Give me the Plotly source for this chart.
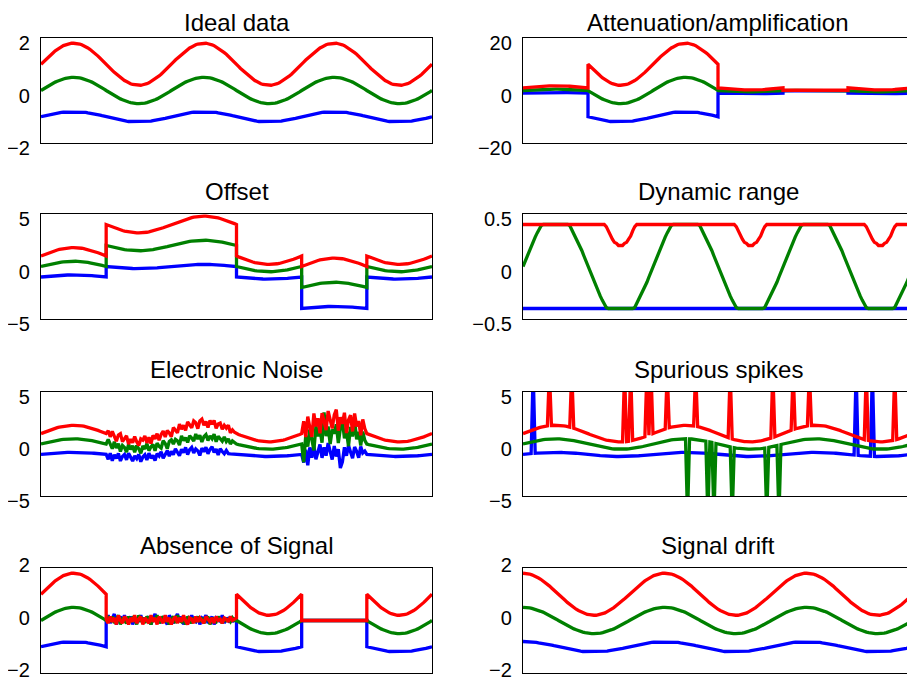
import plotly.graph_objects as go

# ---------------- data ----------------
titles = ["Ideal data", "Attenuation/amplification", "Offset", "Dynamic range",
          "Electronic Noise", "Spurious spikes", "Absence of Signal", "Signal drift"]
y_ranges = [[-2, 2], [-20, 20], [-5, 5], [-0.5, 0.5], [-5, 5], [-5, 5], [-2, 2], [-2, 2]]
y_tickvals = [[-2, 0, 2], [-20, 0, 20], [-5, 0, 5], [-0.5, 0, 0.5],
              [-5, 0, 5], [-5, 0, 5], [-2, 0, 2], [-2, 0, 2]]
y_ticktext = [["\u22122", "0", "2"], ["\u221220", "0", "20"], ["\u22125", "0", "5"],
              ["\u22120.5", "0", "0.5"], ["\u22125", "0", "5"], ["\u22125", "0", "5"],
              ["\u22122", "0", "2"], ["\u22122", "0", "2"]]

N_SAMPLES = 192

ideal_red = [
    1.00, 1.08, 1.16, 1.23, 1.31, 1.38, 1.44, 1.51, 1.57, 1.62, 1.66, 1.71, 1.74, 1.77, 1.78, 1.80,
    1.80, 1.80, 1.78, 1.77, 1.74, 1.71, 1.66, 1.62, 1.57, 1.51, 1.44, 1.38, 1.31, 1.23, 1.16, 1.08,
    1.00, 0.92, 0.84, 0.77, 0.69, 0.62, 0.56, 0.49, 0.43, 0.38, 0.34, 0.29, 0.26, 0.23, 0.22, 0.20,
    0.20, 0.20, 0.22, 0.23, 0.26, 0.29, 0.34, 0.38, 0.43, 0.49, 0.56, 0.62, 0.69, 0.77, 0.84, 0.92,
    1.00, 1.08, 1.16, 1.23, 1.31, 1.38, 1.44, 1.51, 1.57, 1.62, 1.66, 1.71, 1.74, 1.77, 1.78, 1.80,
    1.80, 1.80, 1.78, 1.77, 1.74, 1.71, 1.66, 1.62, 1.57, 1.51, 1.44, 1.38, 1.31, 1.23, 1.16, 1.08,
    1.00, 0.92, 0.84, 0.77, 0.69, 0.62, 0.56, 0.49, 0.43, 0.38, 0.34, 0.29, 0.26, 0.23, 0.22, 0.20,
    0.20, 0.20, 0.22, 0.23, 0.26, 0.29, 0.34, 0.38, 0.43, 0.49, 0.56, 0.62, 0.69, 0.77, 0.84, 0.92,
    1.00, 1.08, 1.16, 1.23, 1.31, 1.38, 1.44, 1.51, 1.57, 1.62, 1.66, 1.71, 1.74, 1.77, 1.78, 1.80,
    1.80, 1.80, 1.78, 1.77, 1.74, 1.71, 1.66, 1.62, 1.57, 1.51, 1.44, 1.38, 1.31, 1.23, 1.16, 1.08,
    1.00, 0.92, 0.84, 0.77, 0.69, 0.62, 0.56, 0.49, 0.43, 0.38, 0.34, 0.29, 0.26, 0.23, 0.22, 0.20,
    0.20, 0.20, 0.22, 0.23, 0.26, 0.29, 0.34, 0.38, 0.43, 0.49, 0.56, 0.62, 0.69, 0.77, 0.84, 0.92,
    1.00]

ideal_green = [
    0.00, 0.05, 0.10, 0.15, 0.19, 0.24, 0.28, 0.32, 0.35, 0.39, 0.42, 0.44, 0.46, 0.48, 0.49, 0.50,
    0.50, 0.50, 0.49, 0.48, 0.46, 0.44, 0.42, 0.39, 0.35, 0.32, 0.28, 0.24, 0.19, 0.15, 0.10, 0.05,
    0.00, -0.05, -0.10, -0.15, -0.19, -0.24, -0.28, -0.32, -0.35, -0.39, -0.42, -0.44, -0.46, -0.48, -0.49, -0.50,
    -0.50, -0.50, -0.49, -0.48, -0.46, -0.44, -0.42, -0.39, -0.35, -0.32, -0.28, -0.24, -0.19, -0.15, -0.10, -0.05,
    0.00, 0.05, 0.10, 0.15, 0.19, 0.24, 0.28, 0.32, 0.35, 0.39, 0.42, 0.44, 0.46, 0.48, 0.49, 0.50,
    0.50, 0.50, 0.49, 0.48, 0.46, 0.44, 0.42, 0.39, 0.35, 0.32, 0.28, 0.24, 0.19, 0.15, 0.10, 0.05,
    0.00, -0.05, -0.10, -0.15, -0.19, -0.24, -0.28, -0.32, -0.35, -0.39, -0.42, -0.44, -0.46, -0.48, -0.49, -0.50,
    -0.50, -0.50, -0.49, -0.48, -0.46, -0.44, -0.42, -0.39, -0.35, -0.32, -0.28, -0.24, -0.19, -0.15, -0.10, -0.05,
    0.00, 0.05, 0.10, 0.15, 0.19, 0.24, 0.28, 0.32, 0.35, 0.39, 0.42, 0.44, 0.46, 0.48, 0.49, 0.50,
    0.50, 0.50, 0.49, 0.48, 0.46, 0.44, 0.42, 0.39, 0.35, 0.32, 0.28, 0.24, 0.19, 0.15, 0.10, 0.05,
    0.00, -0.05, -0.10, -0.15, -0.19, -0.24, -0.28, -0.32, -0.35, -0.39, -0.42, -0.44, -0.46, -0.48, -0.49, -0.50,
    -0.50, -0.50, -0.49, -0.48, -0.46, -0.44, -0.42, -0.39, -0.35, -0.32, -0.28, -0.24, -0.19, -0.15, -0.10, -0.05,
    0.00]

ideal_blue = [
    -1.00, -0.98, -0.96, -0.94, -0.92, -0.91, -0.89, -0.87, -0.86, -0.85, -0.83, -0.82, -0.82, -0.81, -0.80, -0.80,
    -0.80, -0.80, -0.80, -0.81, -0.82, -0.82, -0.83, -0.85, -0.86, -0.87, -0.89, -0.91, -0.92, -0.94, -0.96, -0.98,
    -1.00, -1.02, -1.04, -1.06, -1.08, -1.09, -1.11, -1.13, -1.14, -1.15, -1.17, -1.18, -1.18, -1.19, -1.20, -1.20,
    -1.20, -1.20, -1.20, -1.19, -1.18, -1.18, -1.17, -1.15, -1.14, -1.13, -1.11, -1.09, -1.08, -1.06, -1.04, -1.02,
    -1.00, -0.98, -0.96, -0.94, -0.92, -0.91, -0.89, -0.87, -0.86, -0.85, -0.83, -0.82, -0.82, -0.81, -0.80, -0.80,
    -0.80, -0.80, -0.80, -0.81, -0.82, -0.82, -0.83, -0.85, -0.86, -0.87, -0.89, -0.91, -0.92, -0.94, -0.96, -0.98,
    -1.00, -1.02, -1.04, -1.06, -1.08, -1.09, -1.11, -1.13, -1.14, -1.15, -1.17, -1.18, -1.18, -1.19, -1.20, -1.20,
    -1.20, -1.20, -1.20, -1.19, -1.18, -1.18, -1.17, -1.15, -1.14, -1.13, -1.11, -1.09, -1.08, -1.06, -1.04, -1.02,
    -1.00, -0.98, -0.96, -0.94, -0.92, -0.91, -0.89, -0.87, -0.86, -0.85, -0.83, -0.82, -0.82, -0.81, -0.80, -0.80,
    -0.80, -0.80, -0.80, -0.81, -0.82, -0.82, -0.83, -0.85, -0.86, -0.87, -0.89, -0.91, -0.92, -0.94, -0.96, -0.98,
    -1.00, -1.02, -1.04, -1.06, -1.08, -1.09, -1.11, -1.13, -1.14, -1.15, -1.17, -1.18, -1.18, -1.19, -1.20, -1.20,
    -1.20, -1.20, -1.20, -1.19, -1.18, -1.18, -1.17, -1.15, -1.14, -1.13, -1.11, -1.09, -1.08, -1.06, -1.04, -1.02,
    -1.00]

# segment boundaries (sample indices) shared by several panels
seg_bounds = [0, 32, 96, 128, 160, 192]

# attenuation / amplification gain per segment
att_gain = [1, 10, 1, 0.1, 1]

# offsets per segment
offset_red = [0, 3, 0, -1, 0]
offset_green = [0, 2, 0, -2, 0]
offset_blue = [0, 1, 0, -3, 0]

# dynamic range limits
dyn_low, dyn_high = -0.4, 0.4

# electronic noise: region 1 = samples 32..96, region 2 = samples 128..160
noise1_start, noise2_start = 32, 128
noise1_red = [
    0.00, 0.35, -0.15, 0.45, 0.05, -0.35, 0.30, 0.50, -0.20, 0.15, 0.45, -0.30, 0.20, -0.10, 0.50, 0.00,
    -0.35, 0.30, 0.15, 0.55, -0.15, 0.35, -0.30, 0.45, 0.05, 0.50, -0.20, 0.30, 0.55, -0.10, 0.45, 0.15,
    -0.30, 0.50, 0.20, -0.15, 0.60, 0.05, 0.35, -0.20, 0.55, 0.15, -0.10, 0.50, 0.30, -0.30, 0.45, 0.60,
    0.00, 0.35, -0.20, 0.50, 0.15, 0.55, -0.15, 0.30, 0.45, -0.10, 0.35, 0.15, 0.50, -0.15, 0.20, 0.05,
    0.00]
noise1_green = [
    0.00, 0.50, 0.15, -0.30, 0.40, -0.15, 0.30, -0.40, 0.20, 0.05, -0.35, 0.40, -0.05, 0.30, -0.30, 0.35,
    0.05, -0.40, 0.30, 0.00, 0.50, -0.20, 0.15, 0.35, -0.30, 0.40, 0.05, -0.15, 0.50, 0.20, -0.35, 0.30,
    0.40, -0.05, 0.35, 0.15, -0.30, 0.55, 0.05, 0.30, -0.20, 0.40, 0.15, -0.15, 0.50, 0.00, 0.35, -0.30,
    0.20, 0.40, -0.15, 0.30, 0.05, 0.50, -0.20, 0.35, 0.15, -0.05, 0.40, 0.00, 0.30, -0.15, 0.20, 0.05,
    0.00]
noise1_blue = [
    0.00, -0.45, 0.15, -0.55, 0.05, -0.30, 0.20, -0.50, -0.05, 0.15, -0.35, 0.30, -0.15, -0.45, 0.05, -0.20,
    0.20, -0.50, -0.05, 0.15, -0.35, 0.30, -0.20, 0.05, -0.45, 0.20, -0.05, 0.35, -0.30, 0.15, 0.40, -0.15,
    0.30, -0.05, 0.50, 0.15, -0.20, 0.40, 0.05, 0.55, -0.15, 0.30, 0.50, -0.05, 0.35, 0.15, -0.30, 0.40,
    0.05, 0.50, -0.15, 0.30, 0.55, 0.00, 0.35, -0.20, 0.40, 0.15, -0.05, 0.30, 0.00, 0.00, 0.00, 0.00,
    0.00]
noise2_red = [
    0.00, 1.10, -0.50, 1.40, 0.30, -0.70, 1.50, 0.20, 0.90, -0.60, 1.30, 0.40, -0.40, 1.40, 0.60, -0.30, 1.00,
    1.50, -0.50, 0.80, 0.20, 1.30, -0.60, 0.70, 1.20, -0.30, 1.50, 0.30, 0.90, -0.40, 1.20, 0.40, 0.00]
noise2_green = [
    0.00, -1.80, 0.70, -0.40, 1.20, 0.20, -0.90, 1.40, 0.40, 1.00, -0.30, 2.60, 0.30, 1.20, -0.50, 0.90, 0.50,
    1.40, -0.40, 1.00, 1.80, 0.10, 0.80, -0.60, 1.30, 0.40, 2.00, 0.20, 1.00, -0.30, 1.10, 0.30, 0.00]
noise2_blue = [
    0.00, -0.80, 0.40, -1.10, 0.60, -0.40, 0.70, -0.60, 0.20, 0.80, -0.50, 0.50, -0.30, 0.90, 0.10, -0.70, 0.60,
    -0.40, 0.30, -1.50, -0.90, 0.50, -0.30, 0.70, 0.10, -0.50, 0.60, 0.20, -0.40, 0.70, 0.10, 0.30, 0.00]

# spurious spikes: sample index and spike value
spike_red_idx = [13, 24, 50, 53, 61, 63, 71, 85, 102, 123, 133, 141, 169, 183]
spike_green_idx = [81, 91, 94, 103, 120, 126]
spike_blue_idx = [5, 164, 172]
spike_up, spike_down = 7.0, -7.0

# absence of signal: residual signal in samples 32..96, flat level in 128..160
absence_red = [
    0.05, -0.10, 0.15, -0.05, 0.10, -0.15, 0.20, 0.00, -0.10, 0.15, 0.05, -0.15, 0.10, -0.05, 0.20, -0.10,
    0.05, 0.15, -0.15, 0.10, 0.00, -0.10, 0.20, -0.05, 0.10, -0.15, 0.15, 0.05, -0.10, 0.20, -0.05, 0.10,
    -0.15, 0.05, 0.15, -0.10, 0.10, -0.05, 0.20, 0.00, -0.15, 0.10, 0.05, -0.10, 0.15, -0.05, 0.10, 0.00,
    -0.10, 0.15, 0.05, -0.05, 0.10, -0.10, 0.15, 0.00, 0.05, -0.10, 0.10, 0.05, -0.05, 0.15, 0.00, 0.05,
    0.10]
absence_green = [
    0.00, 0.10, -0.05, 0.15, -0.10, 0.05, 0.20, -0.15, 0.10, 0.00, -0.10, 0.15, -0.05, 0.10, 0.05, -0.15,
    0.20, -0.05, 0.10, -0.10, 0.15, 0.05, -0.15, 0.10, 0.00, 0.20, -0.10, 0.05, 0.15, -0.05, 0.10, -0.15,
    0.05, 0.15, -0.10, 0.20, 0.00, -0.05, 0.10, -0.15, 0.15, 0.05, -0.10, 0.10, 0.00, 0.15, -0.05, 0.10,
    -0.10, 0.05, 0.15, -0.15, 0.10, 0.00, -0.05, 0.15, 0.05, -0.10, 0.10, 0.00, 0.05, -0.05, 0.10, 0.00,
    0.00]
absence_blue = [
    0.00, 0.20, -0.10, 0.10, 0.25, -0.15, 0.05, 0.15, -0.05, 0.20, -0.10, 0.00, 0.15, -0.15, 0.10, 0.05,
    -0.05, 0.20, -0.10, 0.10, 0.00, 0.15, -0.15, 0.05, 0.25, -0.05, 0.10, -0.10, 0.15, 0.00, -0.15, 0.20,
    0.05, -0.10, 0.10, 0.25, -0.05, 0.15, -0.15, 0.05, 0.10, -0.10, 0.20, 0.00, -0.05, 0.15, -0.15, 0.10,
    0.05, 0.20, -0.10, 0.00, 0.15, -0.15, 0.10, 0.05, -0.05, 0.20, -0.10, 0.10, 0.00, 0.15, -0.05, 0.05,
    0.00]
absence_flat = [0.0, 0.0, 0.0]  # blue, green, red

# signal drift: the waveform starts a quarter period (16 samples) later
drift_start = 16

# ---------------- build traces ----------------
colors = {"blue": "#0000ff", "green": "#008000", "red": "#ff0000"}
ideal = {"blue": ideal_blue, "green": ideal_green, "red": ideal_red}
grid = [k / N_SAMPLES for k in range(N_SAMPLES + 1)]


def piecewise(fn):
    xs, ys = [], []
    for s in range(len(seg_bounds) - 1):
        for k in range(seg_bounds[s], seg_bounds[s + 1] + 1):
            xs.append(grid[k])
            ys.append(fn(s, k))
    return xs, ys


panels = []
panels.append({c: (grid, ideal[c]) for c in colors})
panels.append({c: piecewise(lambda s, k, c=c: ideal[c][k] * att_gain[s]) for c in colors})
offs = {"blue": offset_blue, "green": offset_green, "red": offset_red}
panels.append({c: piecewise(lambda s, k, c=c: ideal[c][k] + offs[c][s]) for c in colors})
panels.append({c: (grid, [min(dyn_high, max(dyn_low, v)) for v in ideal[c]]) for c in colors})
n1 = {"blue": noise1_blue, "green": noise1_green, "red": noise1_red}
n2 = {"blue": noise2_blue, "green": noise2_green, "red": noise2_red}
p5 = {}
for c in colors:
    ys = list(ideal[c])
    for i, v in enumerate(n1[c]):
        ys[noise1_start + i] += v
    for i, v in enumerate(n2[c]):
        ys[noise2_start + i] += v
    p5[c] = (grid, ys)
panels.append(p5)
sp = {"blue": (spike_blue_idx, spike_up), "green": (spike_green_idx, spike_down),
      "red": (spike_red_idx, spike_up)}
p6 = {}
for c in colors:
    ys = list(ideal[c])
    for k in sp[c][0]:
        ys[k] = sp[c][1]
    p6[c] = (grid, ys)
panels.append(p6)
ab = {"blue": absence_blue, "green": absence_green, "red": absence_red}
flat = {"blue": absence_flat[0], "green": absence_flat[1], "red": absence_flat[2]}


def absence_fn(c):
    def f(s, k):
        if s == 1:
            return ab[c][k - seg_bounds[1]]
        if s == 3:
            return flat[c]
        return ideal[c][k]
    return f


panels.append({c: piecewise(absence_fn(c)) for c in colors})
n_drift = N_SAMPLES - drift_start
drift_x = [j / n_drift for j in range(n_drift + 1)]
panels.append({c: (drift_x, ideal[c][drift_start:]) for c in colors})

# ---------------- layout ----------------
# the page body has an 8px margin, so positions are given relative to the
# figure's own origin; the figure is kept small enough not to scroll
PAGE = 8
W, H = 915 - PAGE, 689 - 2 * PAGE
col_px = [(41, 432), (523, 913)]
row_px = [(38, 143), (214, 319), (392, 496), (568, 673)]
FONT = "Liberation Sans, Arial, Helvetica, sans-serif"

fig = go.Figure()
annotations = []
for i, panel in enumerate(panels):
    n = "" if i == 0 else str(i + 1)
    r, cidx = divmod(i, 2)
    x0, x1 = col_px[cidx][0] - PAGE, col_px[cidx][1] - PAGE
    y0, y1 = row_px[r][0] - PAGE, row_px[r][1] - PAGE
    xd = [x0 / W, min(1.0, x1 / W)]
    yd = [max(0.0, 1 - y1 / H), 1 - y0 / H]
    for c in ["blue", "green", "red"]:
        xs, ys = panel[c]
        fig.add_trace(go.Scatter(x=xs, y=ys, mode="lines",
                                 line=dict(color=colors[c], width=3.3),
                                 xaxis="x" + n, yaxis="y" + n,
                                 showlegend=False, hoverinfo="skip"))
    fig.layout["xaxis" + n] = dict(domain=xd, anchor="y" + n, range=[0, 1], automargin=False,
                                   showticklabels=False, ticks="", showgrid=False,
                                   zeroline=False, showline=True, mirror=True,
                                   linecolor="black", linewidth=1.3)
    fig.layout["yaxis" + n] = dict(domain=yd, anchor="x" + n, range=y_ranges[i], automargin=False,
                                   tickmode="array", tickvals=y_tickvals[i], ticktext=y_ticktext[i],
                                   ticks="", showgrid=False, zeroline=False,
                                   showline=True, mirror=True, linecolor="black",
                                   linewidth=1.3, ticklabelstandoff=6,
                                   ticklabelshift=-3 if r == 3 else 5,
                                   ticklabeloverflow="allow",
                                   tickfont=dict(size=20, color="black", family=FONT))
    annotations.append(dict(text=titles[i], x=(xd[0] + xd[1]) / 2, y=yd[1],
                            xref="paper", yref="paper", xanchor="center",
                            yanchor="bottom", yshift=0 if r == 0 else 7, showarrow=False,
                            font=dict(size=24, color="black", family=FONT)))

fig.update_layout(template="none", width=W, height=H, autosize=False,
                  margin=dict(l=0, r=0, t=0, b=0, pad=0),
                  paper_bgcolor="white", plot_bgcolor="white",
                  annotations=annotations, font=dict(family=FONT))
fig.write_html("out.html")
